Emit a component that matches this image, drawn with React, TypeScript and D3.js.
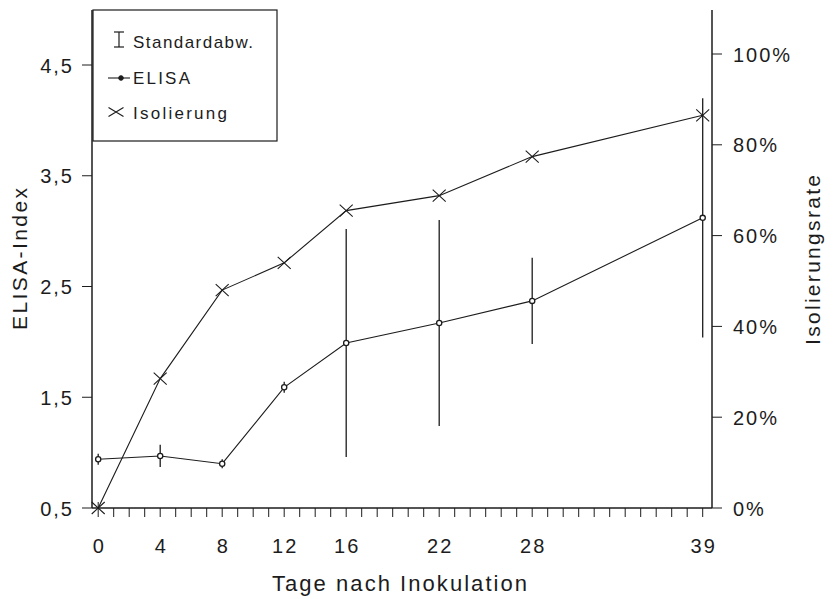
import React from "react";
import * as d3 from "d3";

const days = [0, 4, 8, 12, 16, 22, 28, 39];
const elisa = [0.94, 0.97, 0.9, 1.59, 1.99, 2.17, 2.37, 3.12];
const elisaSD = [0.05, 0.1, 0.04, 0.05, 1.03, 0.93, 0.39, 1.08];
const isolation = [0, 28.5, 48, 54, 65.5, 68.8, 77.4, 86.5];
const elisaTicks = [0.5, 1.5, 2.5, 3.5, 4.5];
const rateTicks = [0, 20, 40, 60, 80, 100];
const dayLabels = [0, 4, 8, 12, 16, 22, 28, 39];
const minorDays = d3.range(0, 40);
const legendLabels = ["Standardabw.", "ELISA", "Isolierung"];

const INK = "#1c1c1c";
const FONT = "'Liberation Sans', Arial, Helvetica, sans-serif";

export default function App() {
  const W = 834, H = 599;
  const left = 92, right = 712, top = 10, bottom = 508;
  const x = d3.scaleLinear().domain([-0.4, 39.6]).range([left, right]);
  const yL = d3.scaleLinear().domain([0.5, 4.5]).range([bottom, 65]);
  const yR = d3.scaleLinear().domain([0, 100]).range([bottom, 54]);

  const elisaPts = days.map((d, i) => [x(d), yL(elisa[i])] as [number, number]);
  const isoPts = days.map((d, i) => [x(d), yR(isolation[i])] as [number, number]);
  const line = d3.line();

  const cross = (cx: number, cy: number, hw: number, hh: number, key: string) => (
    <path key={key} d={`M${cx - hw},${cy - hh}L${cx + hw},${cy + hh}M${cx - hw},${cy + hh}L${cx + hw},${cy - hh}`} stroke={INK} strokeWidth={1.1} fill="none" />
  );

  return (
    <svg width={W} height={H} style={{ position: "absolute", left: 0, top: 0, background: "#fff" }} fontFamily={FONT}>
      <rect width={W} height={H} fill="#fff" />
      {/* axes */}
      <line x1={left} y1={top} x2={left} y2={bottom} stroke={INK} strokeWidth={1.5} />
      <line x1={right} y1={top} x2={right} y2={bottom} stroke={INK} strokeWidth={1.5} />
      <line x1={left} y1={bottom} x2={right} y2={bottom} stroke={INK} strokeWidth={1.3} />

      {/* x ticks */}
      {minorDays.map((d) => (
        <line key={"mt" + d} x1={x(d)} x2={x(d)} y1={d === 0 ? bottom - 6 : bottom} y2={bottom + 9} stroke={INK} strokeWidth={1} />
      ))}
      {dayLabels.map((d) => (
        <text key={"xl" + d} x={x(d) + 1} y={553} textAnchor="middle" fontSize={20} letterSpacing={2} fill={INK}>{d}</text>
      ))}
      <text x={272} y={591} fontSize={22} textLength={255} lengthAdjust="spacing" fill={INK}>Tage nach Inokulation</text>

      {/* left ticks */}
      {elisaTicks.map((t) => (
        <g key={"lt" + t}>
          <line x1={left - 10} x2={left} y1={yL(t)} y2={yL(t)} stroke={INK} strokeWidth={1} />
          <text x={74} y={yL(t) + 7.5} textAnchor="end" fontSize={20} letterSpacing={2} fill={INK}>{String(t).replace(".", ",")}</text>
        </g>
      ))}
      <text transform={`translate(27,259) rotate(-90)`} textAnchor="middle" fontSize={21} textLength={142} lengthAdjust="spacing" fill={INK}>ELISA-Index</text>

      {/* right ticks */}
      {rateTicks.map((t) => (
        <g key={"rt" + t}>
          <line x1={right} x2={right + 10} y1={yR(t)} y2={yR(t)} stroke={INK} strokeWidth={1} />
          <text x={733} y={yR(t) + 7.5} fontSize={20} letterSpacing={2} fill={INK}>{t + "%"}</text>
        </g>
      ))}
      <text transform={`translate(820,260) rotate(-90)`} textAnchor="middle" fontSize={21} textLength={170} lengthAdjust="spacing" fill={INK}>Isolierungsrate</text>

      {/* error bars */}
      {days.map((d, i) => (
        <line key={"eb" + d} x1={x(d)} x2={x(d)} y1={yL(elisa[i] + elisaSD[i])} y2={yL(elisa[i] - elisaSD[i])} stroke={INK} strokeWidth={1.3} />
      ))}

      {/* lines */}
      <path d={line(isoPts) || ""} fill="none" stroke={INK} strokeWidth={1.1} />
      <path d={line(elisaPts) || ""} fill="none" stroke={INK} strokeWidth={1.1} />
      {elisaPts.map(([px, py], i) => (
        <circle key={"ec" + i} cx={px} cy={py} r={2.6} fill="#fff" stroke={INK} strokeWidth={1.3} />
      ))}
      {isoPts.map(([px, py], i) => cross(px, py, 6.5, 6, "ix" + i))}

      {/* legend */}
      <rect x={93} y={top} width={184} height={131} fill="#fff" stroke={INK} strokeWidth={1.2} />
      <line x1={119} x2={119} y1={32} y2={47} stroke={INK} strokeWidth={1.2} />
      <line x1={114} x2={124} y1={32} y2={32} stroke={INK} strokeWidth={1.2} />
      <line x1={114} x2={124} y1={47} y2={47} stroke={INK} strokeWidth={1.2} />
      <text x={133} y={48} fontSize={17} textLength={120} lengthAdjust="spacing" fill={INK}>{legendLabels[0]}</text>
      <line x1={108} x2={130} y1={78} y2={78} stroke={INK} strokeWidth={1.1} />
      <circle cx={121} cy={78} r={2.3} fill={INK} stroke={INK} strokeWidth={1} />
      <text x={133} y={84} fontSize={17} textLength={57} lengthAdjust="spacing" fill={INK}>{legendLabels[1]}</text>
      {cross(116, 112, 7.5, 4.5, "legx")}
      <text x={133} y={119} fontSize={17} textLength={94} lengthAdjust="spacing" fill={INK}>{legendLabels[2]}</text>
    </svg>
  );
}
